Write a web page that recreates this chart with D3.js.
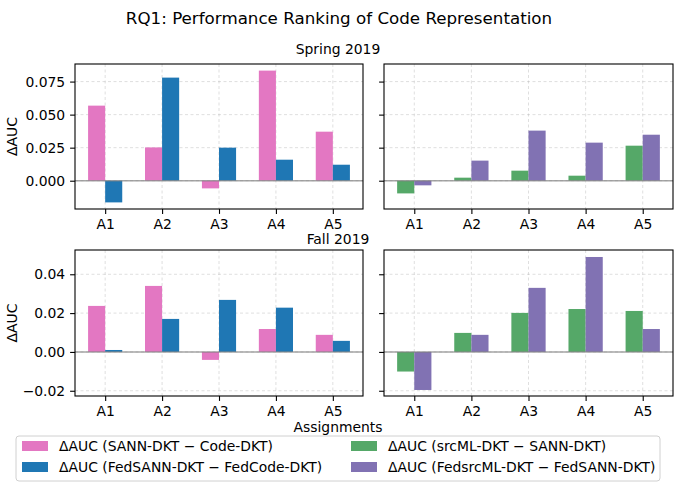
<!DOCTYPE html>
<html>
<head>
<meta charset="utf-8">
<script src="https://cdn.jsdelivr.net/npm/d3@7"></script>
<style>
  body { margin: 0; background: #fff; }
  text { font-family: "DejaVu Sans", sans-serif; }
</style>
</head>
<body>
<div id="vis"></div>
<script>
const width = 679;
const height = 487;

// data
const assignments = ['A1', 'A2', 'A3', 'A4', 'A5'];
const seriesNames = [
  'ΔAUC (SANN-DKT − Code-DKT)',
  'ΔAUC (FedSANN-DKT − FedCode-DKT)',
  'ΔAUC (srcML-DKT − SANN-DKT)',
  'ΔAUC (FedsrcML-DKT − FedSANN-DKT)'
];
const colors = ['#e377c2', '#1f77b4', '#55a868', '#8172b3'];

const springSann = [0.0568, 0.0252, -0.0058, 0.0833, 0.0371];
const springFedSann = [-0.0164, 0.0780, 0.0250, 0.0159, 0.0121];
const springSrcml = [-0.0096, 0.0023, 0.0076, 0.0038, 0.0265];
const springFedSrcml = [-0.0035, 0.0152, 0.0379, 0.0288, 0.0348];

const fallSann = [0.0237, 0.0340, -0.0041, 0.0118, 0.0088];
const fallFedSann = [0.0010, 0.0170, 0.0268, 0.0228, 0.0057];
const fallSrcml = [-0.0101, 0.0098, 0.0201, 0.0221, 0.0211];
const fallFedSrcml = [-0.0196, 0.0088, 0.0330, 0.0489, 0.0118];

const springTicks = [0, 0.025, 0.05, 0.075];
const fallTicks = [-0.02, 0, 0.02, 0.04];

const fs = '13.9px'; // 10pt at 100 dpi

const svg = d3.select('#vis')
  .append('svg')
  .attr('width', width)
  .attr('height', height);

// panel layout
const cols = [{x0: 75, x1: 363}, {x0: 384, x1: 673}];
const rows = [
  {y0: 64, y1: 209, domain: [-0.0214, 0.0883], ticks: springTicks, fmt: d3.format('.3f'),
   left: [springSann, springFedSann], right: [springSrcml, springFedSrcml]},
  {y0: 250, y1: 396, domain: [-0.0227, 0.0525], ticks: fallTicks, fmt: d => d3.format('.2f')(d).replace('-', '−'),
   left: [fallSann, fallFedSann], right: [fallSrcml, fallFedSrcml]}
];

const barW = 0.3;

rows.forEach((row, ri) => {
  const y = d3.scaleLinear().domain(row.domain).range([row.y1, row.y0]);
  cols.forEach((col, ci) => {
    const x = d3.scaleLinear().domain([-0.53, 4.53]).range([col.x0, col.x1]);
    const g = svg.append('g');
    const series = ci === 0 ? row.left : row.right;
    const cIdx = ci === 0 ? [0, 1] : [2, 3];

    // grid
    g.selectAll('.gy').data(row.ticks).join('line')
      .attr('x1', col.x0).attr('x2', col.x1)
      .attr('y1', d => y(d)).attr('y2', d => y(d))
      .attr('stroke', '#b0b0b0').attr('stroke-opacity', 0.5)
      .attr('stroke-width', 0.8).attr('stroke-dasharray', '3,2.5');
    g.selectAll('.gx').data(assignments).join('line')
      .attr('x1', (d, i) => x(i)).attr('x2', (d, i) => x(i))
      .attr('y1', row.y0).attr('y2', row.y1)
      .attr('stroke', '#b0b0b0').attr('stroke-opacity', 0.5)
      .attr('stroke-width', 0.8).attr('stroke-dasharray', '3,2.5');

    // bars
    series.forEach((vals, si) => {
      const off = si === 0 ? -barW : 0;
      g.selectAll('.bar' + si).data(vals).join('rect')
        .attr('x', (d, i) => x(i + off))
        .attr('width', x(barW) - x(0))
        .attr('y', d => y(Math.max(0, d)))
        .attr('height', d => Math.abs(y(d) - y(0)))
        .style('fill', colors[cIdx[si]]);
    });

    // zero line
    g.append('line')
      .attr('x1', col.x0).attr('x2', col.x1)
      .attr('y1', y(0)).attr('y2', y(0))
      .attr('stroke', '#808080').attr('stroke-opacity', 0.7)
      .attr('stroke-width', 1.5);

    // axes
    const yAxis = d3.axisLeft(y).tickValues(row.ticks).tickSize(4.9).tickPadding(4.9)
      .tickFormat(ci === 0 ? row.fmt : '');
    const ya = g.append('g').attr('transform', `translate(${col.x0},0)`).call(yAxis);
    const xAxis = d3.axisBottom(x).tickValues(d3.range(assignments.length)).tickSize(4.9).tickPadding(4.9)
      .tickFormat(i => assignments[i]);
    const xa = g.append('g').attr('transform', `translate(0,${row.y1})`).call(xAxis);
    [ya, xa].forEach(a => {
      a.select('.domain').remove();
      a.selectAll('text').style('font-size', fs).attr('fill', '#000')
        .style('font-family', '"DejaVu Sans", sans-serif');
      a.selectAll('line').attr('stroke', '#000').attr('stroke-width', 1.1);
    });

    // frame
    g.append('rect')
      .attr('x', col.x0).attr('y', row.y0)
      .attr('width', col.x1 - col.x0).attr('height', row.y1 - row.y0)
      .attr('fill', 'none').attr('stroke', '#000').attr('stroke-width', 1.1);

    if (ci === 0) {
      svg.append('text')
        .attr('transform', `translate(17,${(row.y0 + row.y1) / 2}) rotate(-90)`)
        .attr('text-anchor', 'middle')
        .style('font-size', fs)
        .text('ΔAUC');
    }
  });
});

// titles
svg.append('text').attr('x', 339).attr('y', 24).attr('text-anchor', 'middle')
  .style('font-size', '16.7px').text('RQ1: Performance Ranking of Code Representation');
svg.append('text').attr('x', 338).attr('y', 54).attr('text-anchor', 'middle')
  .style('font-size', fs).text('Spring 2019');
svg.append('text').attr('x', 338).attr('y', 244).attr('text-anchor', 'middle')
  .style('font-size', fs).text('Fall 2019');
svg.append('text').attr('x', 338).attr('y', 432).attr('text-anchor', 'middle')
  .style('font-size', fs).text('Assignments');

// legend
const leg = svg.append('g');
leg.append('rect')
  .attr('x', 16).attr('y', 436).attr('width', 644).attr('height', 45)
  .attr('rx', 3).attr('fill', '#fff').attr('stroke', '#d0d0d0').attr('stroke-width', 1);
const legPos = [[22, 441], [22, 462], [351, 441], [351, 462]];
seriesNames.forEach((name, si) => {
  const [lx, ly] = legPos[si];
  leg.append('rect').attr('x', lx).attr('y', ly).attr('width', 26).attr('height', 10)
    .style('fill', colors[si]);
  leg.append('text').attr('x', lx + 37).attr('y', ly + 10)
    .style('font-size', fs).text(name);
});
</script>
</body>
</html>
